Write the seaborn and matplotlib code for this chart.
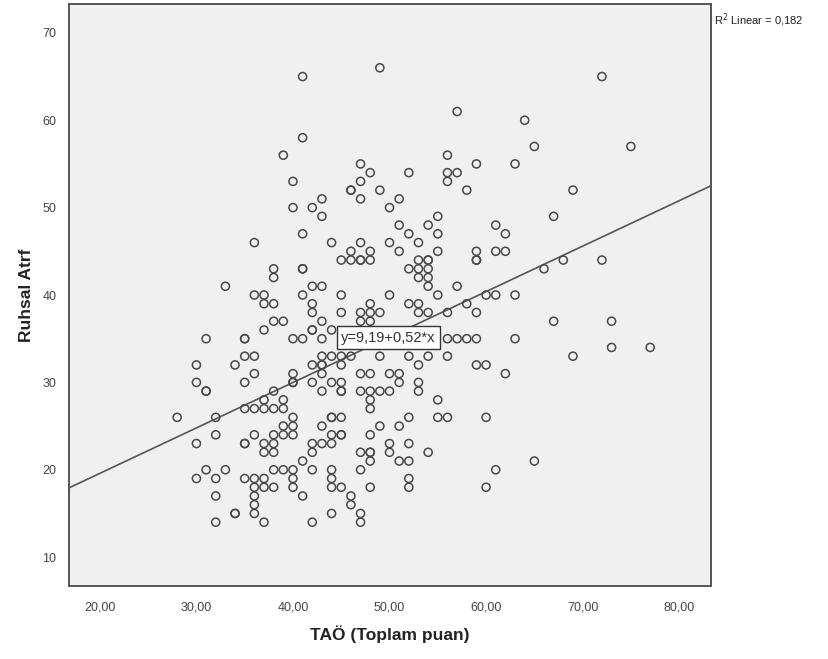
import pandas as pd
import seaborn as sns
from matplotlib import pyplot as plt

# TAÖ total score (x) and Ruhsal Atrf (y)
TAO = [
    41, 49, 72, 57, 64, 41, 39, 56, 65, 75,
    47, 59, 63, 48, 52, 56, 57, 40, 47, 56,
    46, 46, 49, 58, 69, 47, 43, 51,
    40, 42, 50, 43, 55, 67,
    51, 54, 61, 41, 52, 55, 62,
    36, 44, 47, 50, 53,
    46, 48, 51, 55, 59, 61, 62,
    45, 46, 47, 47, 48, 53, 54, 54, 59, 59, 68, 72,
    38, 41, 41, 52, 53, 54, 66,
    38, 53, 54,
    33, 42, 43, 54, 57,
    36, 37, 41, 45, 50, 55, 60, 61, 63,
    37, 38, 42, 48, 52, 53, 58,
    42, 45, 47, 48, 49, 53, 54, 56, 59,
    38, 39, 43, 47, 48, 67, 73,
    37, 42, 42, 44,
    31, 35, 35, 40, 41, 43, 56, 57, 58, 59, 63,
    73, 77,
    35, 36, 43, 44, 45, 46, 49, 52, 54, 56, 69,
    30, 34, 42, 43, 43, 45, 53, 59, 60,
    36, 40, 43, 47, 48, 50, 51, 62,
    30, 35, 40, 40, 42, 44, 45, 51, 53,
    31, 31, 38, 43, 45, 45, 47, 48, 49, 50, 53,
    37, 39, 48, 55,
    35, 36, 37, 38, 39, 48,
    28, 32, 40, 44, 44, 45, 52, 55, 56, 60,
    39, 40, 43, 49, 51,
    32, 36, 38, 39, 40, 44, 45, 45, 48,
    30, 35, 35, 37, 38, 42, 43, 44, 50, 52,
    37, 38, 42, 47, 48, 48, 50, 54,
    41, 48, 51, 52, 65,
    31, 33, 38, 39, 40, 42, 44, 47, 61,
    30, 32, 35, 36, 37, 40, 44, 52,
    36, 37, 38, 40, 44, 45, 48, 52, 60,
    32, 36, 41, 46,
    36, 46,
    34, 34, 36, 44, 47,
    32, 37, 42, 47,
]
RUHSAL = [
    65, 66, 65, 61, 60, 58, 56, 56, 57, 57,
    55, 55, 55, 54, 54, 54, 54, 53, 53, 53,
    52, 52, 52, 52, 52, 51, 51, 51,
    50, 50, 50, 49, 49, 49,
    48, 48, 48, 47, 47, 47, 47,
    46, 46, 46, 46, 46,
    45, 45, 45, 45, 45, 45, 45,
    44, 44, 44, 44, 44, 44, 44, 44, 44, 44, 44, 44,
    43, 43, 43, 43, 43, 43, 43,
    42, 42, 42,
    41, 41, 41, 41, 41,
    40, 40, 40, 40, 40, 40, 40, 40, 40,
    39, 39, 39, 39, 39, 39, 39,
    38, 38, 38, 38, 38, 38, 38, 38, 38,
    37, 37, 37, 37, 37, 37, 37,
    36, 36, 36, 36,
    35, 35, 35, 35, 35, 35, 35, 35, 35, 35, 35,
    34, 34,
    33, 33, 33, 33, 33, 33, 33, 33, 33, 33, 33,
    32, 32, 32, 32, 32, 32, 32, 32, 32,
    31, 31, 31, 31, 31, 31, 31, 31,
    30, 30, 30, 30, 30, 30, 30, 30, 30,
    29, 29, 29, 29, 29, 29, 29, 29, 29, 29, 29,
    28, 28, 28, 28,
    27, 27, 27, 27, 27, 27,
    26, 26, 26, 26, 26, 26, 26, 26, 26, 26,
    25, 25, 25, 25, 25,
    24, 24, 24, 24, 24, 24, 24, 24, 24,
    23, 23, 23, 23, 23, 23, 23, 23, 23, 23,
    22, 22, 22, 22, 22, 22, 22, 22,
    21, 21, 21, 21, 21,
    20, 20, 20, 20, 20, 20, 20, 20, 20,
    19, 19, 19, 19, 19, 19, 19, 19,
    18, 18, 18, 18, 18, 18, 18, 18, 18,
    17, 17, 17, 17,
    16, 16,
    15, 15, 15, 15, 15,
    14, 14, 14, 14,
]

# fit line as printed on the chart
INTERCEPT = 9.19
SLOPE = 0.52
R2 = "0,182"

X_TICKS = [20, 30, 40, 50, 60, 70, 80]
Y_TICKS = [10, 20, 30, 40, 50, 60, 70]

df = pd.DataFrame({'TAO': TAO, 'Ruhsal': RUHSAL})

sns.set_style('white')
plt.rcParams['font.family'] = ['Liberation Sans', 'DejaVu Sans']

fig = plt.figure(figsize=(8.29, 6.59), dpi=100)
ax = fig.add_axes([0.0832, 0.1108, 0.7745, 0.8831])
ax.set_facecolor('#f0f0f0')

sns.scatterplot(data=df, x='TAO', y='Ruhsal', ax=ax, marker='o', s=34,
                facecolors='none', edgecolor='#484848', linewidth=1.1,
                zorder=3)

ax.axline((0, INTERCEPT), slope=SLOPE, color='#555555', lw=1.2, zorder=2)

ax.text(49.9, 35.1, f"y={INTERCEPT:.2f}+{SLOPE:.2f}*x".replace('.', ','),
        ha='center', va='center', fontsize=10.5, color='#333333', zorder=5,
        bbox=dict(boxstyle='square,pad=0.3', fc='white', ec='#333333', lw=1))

fig.text(0.861, 0.969, f"R$^2$ Linear = {R2}", fontsize=8, color='#222222',
         ha='left', va='center')

ax.set_xlim(16.8, 83.3)
ax.set_ylim(6.7, 73.3)
ax.set_xticks(X_TICKS)
ax.set_xticklabels([f"{t},00" for t in X_TICKS])
ax.set_yticks(Y_TICKS)
ax.tick_params(axis='both', direction='out', length=5, width=1,
               color='#444444', labelsize=9, labelcolor='#444444', pad=4)
ax.tick_params(axis='x', pad=6)

for side in ax.spines.values():
    side.set_color('#555555')
    side.set_linewidth(1.4)

ax.set_xlabel('TAÖ (Toplam puan)', fontsize=12.5, fontweight='bold',
              color='#222222', labelpad=9)
ax.set_ylabel('Ruhsal Atrf', fontsize=12.5, fontweight='bold',
              color='#222222', labelpad=6)

fig.savefig('out.png', dpi=100)
